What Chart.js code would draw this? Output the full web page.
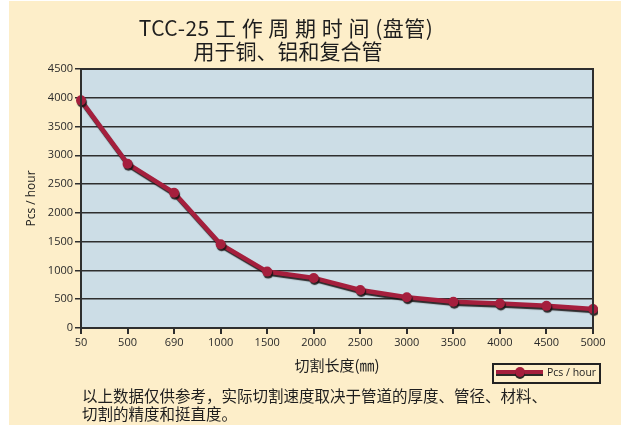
<!DOCTYPE html>
<html>
<head>
<meta charset="utf-8">
<script src="https://cdn.jsdelivr.net/npm/chart.js@4/dist/chart.umd.min.js"></script>
<style>
  html, body { margin: 0; padding: 0; background: #ffffff; }
  #wrap { width: 621px; height: 428px; }
</style>
</head>
<body>
<div id="wrap"><canvas id="cycleChart" width="621" height="428"></canvas></div>
<script>
// data
const lengthLabels = ['50', '500', '690', '1000', '1500', '2000', '2500', '3000', '3500', '4000', '4500', '5000'];
const pcsPerHour = [3955, 2855, 2350, 1455, 980, 870, 660, 535, 455, 425, 385, 330];
const seriesName = 'Pcs / hour';
const titleLines = ['TCC-25 工 作 周 期 时 间 (盘管)', '用于铜、铝和复合管'];
const xTitle = '切割长度(㎜)';
const noteLines = ['以上数据仅供参考，实际切割速度取决于管道的厚度、管径、材料、', '切割的精度和挺直度。'];

const cream = '#fdeec9';
const plotBlue = '#ccdde6';
const lineRed = '#a51f3d';
const darkLine = '#2e2e2e';
const tickFont = { family: 'Open Sans', size: 11 };
const cjk = '"Noto Sans CJK SC", sans-serif';

// background, plot fill and frame
const framePlugin = {
    id: 'frame',
    beforeDraw(chart) {
        const c = chart.ctx;
        const a = chart.chartArea;
        c.save();
        c.fillStyle = cream;
        c.fillRect(9, 1, 612, 424);
        c.fillStyle = plotBlue;
        c.fillRect(a.left, a.top, a.right - a.left, a.bottom - a.top);
        c.restore();
    },
    afterDraw(chart) {
        const c = chart.ctx;
        const a = chart.chartArea;
        c.save();
        c.strokeStyle = darkLine;
        c.lineWidth = 2;
        c.strokeRect(a.left, a.top, a.right - a.left, a.bottom - a.top);

        // titles
        c.fillStyle = '#1e1e1e';
        c.textAlign = 'center';
        c.textBaseline = 'middle';
        c.font = '21px ' + cjk;
        c.letterSpacing = '0.5px';
        c.fillText(titleLines[0], 286, 28);
        c.letterSpacing = '0px';
        c.fillText(titleLines[1], 288, 51);

        // note under the chart
        c.textAlign = 'left';
        c.font = '15.5px ' + cjk;
        c.fillText(noteLines[0], 82, 396);
        c.fillText(noteLines[1], 82, 414);

        // legend box
        const ds = chart.data.datasets[0];
        c.fillStyle = cream;
        c.fillRect(493, 364, 107, 19);
        c.strokeStyle = '#222';
        c.lineWidth = 2;
        c.strokeRect(493, 364, 107, 19);
        c.shadowColor = 'rgba(20,20,20,0.9)';
        c.shadowOffsetY = 2;
        c.strokeStyle = ds.borderColor;
        c.lineWidth = 4;
        c.beginPath();
        c.moveTo(496, 372);
        c.lineTo(543, 372);
        c.stroke();
        c.fillStyle = ds.pointBackgroundColor;
        c.beginPath();
        c.arc(520, 372, 5, 0, Math.PI * 2);
        c.fill();
        c.shadowColor = 'transparent';
        c.fillStyle = '#222';
        c.font = '10.5px "Open Sans"';
        c.textBaseline = 'middle';
        c.fillText(ds.label, 547, 373);
        c.restore();
    }
};

// dark drop shadow under the line and points
const shadowPlugin = {
    id: 'lineShadow',
    beforeDatasetsDraw(chart) {
        const c = chart.ctx;
        c.save();
        c.shadowColor = 'rgba(25,20,20,0.9)';
        c.shadowOffsetX = 1;
        c.shadowOffsetY = 2;
        c.shadowBlur = 1;
    },
    afterDatasetsDraw(chart) {
        chart.ctx.restore();
    }
};

new Chart(document.getElementById('cycleChart').getContext('2d'), {
    type: 'line',
    data: {
        labels: lengthLabels,
        datasets: [{
            label: seriesName,
            data: pcsPerHour,
            borderColor: lineRed,
            backgroundColor: lineRed,
            pointBackgroundColor: lineRed,
            pointBorderColor: lineRed,
            pointBorderWidth: 0,
            borderWidth: 4.5,
            pointRadius: 5,
            tension: 0,
            fill: false
        }]
    },
    options: {
        responsive: false,
        animation: false,
        layout: { padding: { top: 69, left: 0, right: 28, bottom: 50 } },
        plugins: {
            legend: { display: false },
            title: { display: false },
            tooltip: { enabled: false }
        },
        scales: {
            x: {
                offset: false,
                afterFit(scale) { scale.height = 50; },
                ticks: { color: '#2a2a2a', font: tickFont, padding: 2, maxRotation: 0, autoSkip: false },
                grid: { drawOnChartArea: false, drawTicks: true, tickLength: 6, color: darkLine, lineWidth: 2 },
                border: { color: darkLine, width: 2 },
                title: { display: true, text: xTitle, color: '#1e1e1e', font: { family: cjk, size: 15 }, padding: { top: 4 } }
            },
            y: {
                min: 0,
                max: 4500,
                afterFit(scale) { scale.width = 81; },
                ticks: {
                    stepSize: 500,
                    color: '#2a2a2a',
                    font: tickFont,
                    padding: 2,
                    callback: function (value) { return String(value); }
                },
                grid: { color: darkLine, lineWidth: 1.5, tickLength: 6 },
                border: { color: darkLine, width: 2 },
                title: { display: true, text: seriesName, color: '#1e1e1e', font: { family: 'Open Sans', size: 12 }, padding: { top: 24 } }
            }
        }
    },
    plugins: [framePlugin, shadowPlugin]
});
</script>
</body>
</html>
